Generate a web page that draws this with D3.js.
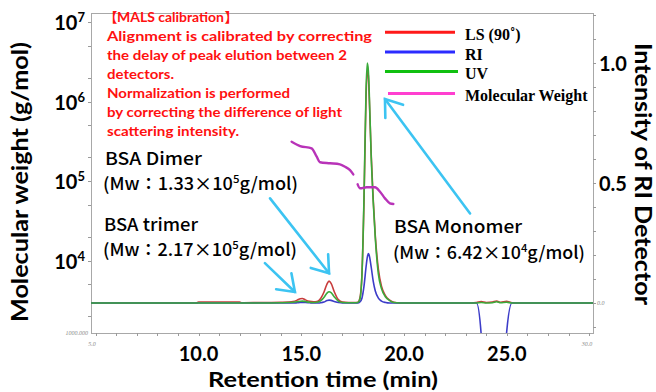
<!DOCTYPE html>
<html>
<head>
<meta charset="utf-8">
<script src="https://cdn.jsdelivr.net/npm/d3@7"></script>
<style>
  html, body { margin: 0; padding: 0; background: #fff; }
  svg { display: block; }
</style>
</head>
<body>
<svg id="chart" width="656" height="392"></svg>
<script>
// ---- Detector traces (normalised intensity) sampled at retention times (min)
const times = [4.77, 8.0, 9.9, 10.0, 12.0, 12.1, 13.0, 14.0, 14.4, 14.6,
  14.8, 14.95, 15.05, 15.2, 15.4, 15.6, 15.75, 15.85, 15.95, 16.1,
  16.25, 16.35, 16.45, 16.6, 16.8, 17.0, 17.3, 17.6, 17.75, 17.85,
  17.95, 18.05, 18.15, 18.21, 18.26, 18.3, 18.4, 18.5, 18.6, 18.75,
  18.9, 19.1, 19.3, 19.5, 19.8, 21.0, 23.3, 23.52, 23.75, 24.0,
  24.3, 24.5, 24.7, 24.98, 25.25, 25.5, 27.0, 29.19];

const lsSignal = [0, 0, 0, 0.004, 0.004, 0.001, 0.002, 0.003, 0.004, 0.006,
  0.012, 0.018, 0.019, 0.013, 0.007, 0.005, 0.006, 0.01, 0.02, 0.045,
  0.079, 0.091, 0.082, 0.048, 0.014, 0.004, 0.002, 0.002, 0.003, 0.02,
  0.12, 0.42, 0.86, 0.97, 0.95, 0.87, 0.62, 0.43, 0.28, 0.14,
  0.07, 0.03, 0.012, 0.003, 0, 0, 0, 0.002, 0.006, 0.002,
  0.004, 0.008, 0.003, 0.007, 0.001, 0, 0, 0];

const riSignal = [0, 0, 0, 0, 0, 0, 0, 0, 0, 0,
  0.001, 0.002, 0.002, 0.002, 0.001, 0, 0, 0, 0.001, 0.004,
  0.01, 0.012, 0.011, 0.006, 0.002, 0, 0, 0, 0, 0.004,
  0.02, 0.07, 0.15, 0.19, 0.206, 0.2, 0.15, 0.09, 0.05, 0.02,
  0.008, 0.002, 0, 0, 0, 0, 0, 0, -0.13, -0.6,
  -0.6, -0.6, -0.6, -0.13, 0, 0, 0, 0];

const uvSignal = [0, 0, 0, 0, 0, 0, 0, 0.001, 0.002, 0.003,
  0.005, 0.007, 0.008, 0.006, 0.003, 0.002, 0.003, 0.005, 0.01, 0.023,
  0.041, 0.047, 0.043, 0.026, 0.008, 0.002, 0.001, 0.001, 0.002, 0.016,
  0.115, 0.44, 0.89, 1.0, 0.97, 0.89, 0.61, 0.42, 0.27, 0.12,
  0.06, 0.025, 0.01, 0.002, 0, 0, 0, 0, 0.002, 0,
  0.001, 0.005, 0.001, 0.003, 0, 0, 0, 0];

// ---- Molar mass from MALS across the eluting peaks (g/mol); null = gap
const mwTimes = [14.53, 14.94, 15.50, 15.75, 15.91, 16.40, 16.88, 17.13, 17.37, 17.53,
  17.64, 17.74, 17.86, 18.18, 18.59, 18.83, 19.07, 19.31, 19.48];
const mwValues = [3.12e5, 2.75e5, 2.58e5, 2.02e5, 1.72e5, 1.67e5, 1.62e5, 1.51e5, 1.37e5, 1.21e5,
  null, 9.08e4, 8.09e4, 8.33e4, 8.33e4, 7.33e4, 6.05e4, 5.24e4, 5.14e4];

// ---- Axes
const timeWindow = [4.77, 29.19];
const xTickValues = [10, 15, 20, 25];
const xTickLabels = ["10.0", "15.0", "20.0", "25.0"];
const mwTickExponents = [4, 5, 6, 7];
const intensityTickValues = [0.5, 1.0];
const intensityTickLabels = ["0.5", "1.0"];

// ---- Legend
const seriesNames = ["LS (90\u02DA)", "RI", "UV", "Molecular Weight"];
const legendColors = ["#ff1a1a", "#2b2bff", "#10c010", "#ff3fd0"];
const traceColors = { ls: "#c83c3c", ri: "#3c3cc8", uv: "#3aaa3a", mw: "#b833b8" };

// ---- Peak annotations: [name, Mw mantissa, Mw exponent]
const peakNames = ["BSA Dimer", "BSA trimer", "BSA Monomer"];
const peakMwMantissa = ["1.33", "2.17", "6.42"];
const peakMwExponent = [5, 5, 4];
// arrows in data space: tail and tip as [time, intensity]
const arrowTails = [[13.48, 0.436], [13.23, 0.166], [23.21, 0.373]];
const arrowTips = [[16.35, 0.124], [14.69, 0.046], [19.07, 0.85]];

const noteTitle = "MALS calibration";
const noteLines = [
  "Alignment is calibrated by correcting",
  "the delay of peak elution between 2",
  "detectors.",
  "Normalization is performed",
  "by correcting the difference of light",
  "scattering intensity."
];

// ================= drawing =================
const svg = d3.select("#chart");
const frame = { left: 91, right: 593, top: 13, bottom: 333 };

const x = d3.scaleLinear().domain(timeWindow).range([frame.left, frame.right]);
const yMw = d3.scaleLog().domain([1e3, 1e7]).range([340, 22]);
const yInt = d3.scaleLinear().domain([0, 1]).range([303, 63]);

svg.append("rect").attr("width", 656).attr("height", 392).attr("fill", "#fff");

svg.append("defs").append("clipPath").attr("id", "plotClip")
  .append("rect")
  .attr("x", frame.left).attr("y", frame.top)
  .attr("width", frame.right - frame.left).attr("height", frame.bottom - frame.top);

// plot frame
svg.append("rect")
  .attr("x", frame.left + 0.5).attr("y", frame.top + 0.5)
  .attr("width", frame.right - frame.left).attr("height", frame.bottom - frame.top)
  .attr("fill", "none").attr("stroke", "#a8a8a8").attr("stroke-width", 1);

// minor ticks
const tickColor = "#9a9a9a";
const ticks = svg.append("g").attr("stroke", tickColor).attr("stroke-width", 1);
d3.range(5, 30).forEach(t => {
  const px = Math.round(x(t)) + 0.5;
  ticks.append("line").attr("x1", px).attr("x2", px)
    .attr("y1", frame.bottom).attr("y2", frame.bottom + 3);
});
const mwMinor = [];
[3, 4, 5, 6].forEach(e => [1, 2, 5].forEach(m => mwMinor.push(m * Math.pow(10, e))));
mwMinor.push(1e7);
mwMinor.forEach(v => {
  const py = Math.round(yMw(v)) + 0.5;
  if (py < frame.top || py > frame.bottom) return;
  ticks.append("line").attr("x1", frame.left - 3).attr("x2", frame.left)
    .attr("y1", py).attr("y2", py);
});
d3.range(-1, 13).forEach(k => {
  const py = Math.round(yInt(k / 10)) + 0.5;
  if (py < frame.top || py > frame.bottom) return;
  ticks.append("line").attr("x1", frame.right).attr("x2", frame.right + 3)
    .attr("y1", py).attr("y2", py);
});

// small instrument labels at the frame corners
const tiny = svg.append("g").attr("font-family", "Liberation Serif")
  .attr("font-style", "italic").attr("font-size", 6).attr("fill", "#8a8a8a");
tiny.append("text").attr("x", frame.left - 3).attr("y", frame.bottom + 2)
  .attr("text-anchor", "end").text("1000.000");
tiny.append("text").attr("x", frame.left + 1).attr("y", frame.bottom + 13)
  .attr("text-anchor", "middle").text("5.0");
tiny.append("text").attr("x", frame.right - 6).attr("y", frame.bottom + 13)
  .attr("text-anchor", "middle").text("30.0");
tiny.append("text").attr("x", frame.right + 4).attr("y", yInt(0) + 2)
  .attr("text-anchor", "start").text("0.0");

// traces
const plot = svg.append("g").attr("clip-path", "url(#plotClip)");
const traceLine = d3.line()
  .x((d, i) => x(times[i]))
  .y(d => yInt(d))
  .curve(d3.curveMonotoneX);

[[lsSignal, traceColors.ls], [riSignal, traceColors.ri], [uvSignal, traceColors.uv]]
  .forEach(([vals, col]) => {
    plot.append("path").attr("d", traceLine(vals))
      .attr("fill", "none").attr("stroke", col).attr("stroke-width", 1.6)
      .attr("stroke-linejoin", "round");
  });

const mwLine = d3.line()
  .defined(d => d != null)
  .x((d, i) => x(mwTimes[i]))
  .y(d => yMw(d))
  .curve(d3.curveMonotoneX);
plot.append("path").attr("d", mwLine(mwValues))
  .attr("fill", "none").attr("stroke", traceColors.mw).attr("stroke-width", 2.4)
  .attr("stroke-linecap", "round").attr("stroke-linejoin", "round");

// axis tick labels
const axisFont = "Lato, 'Open Sans', sans-serif";
const xLab = svg.append("g").attr("font-family", axisFont).attr("font-weight", 700)
  .attr("font-size", 20).attr("fill", "#000");
xTickValues.forEach((v, i) => {
  xLab.append("text").attr("x", x(v)).attr("y", 361)
    .attr("text-anchor", "middle").text(xTickLabels[i]);
});
mwTickExponents.forEach(e => {
  const t = xLab.append("text").attr("x", 85).attr("y", yMw(Math.pow(10, e)) + 8)
    .attr("text-anchor", "end").attr("font-size", 20);
  t.append("tspan").text("10");
  t.append("tspan").attr("dy", -8).attr("font-size", 13).text(e);
});
intensityTickValues.forEach((v, i) => {
  xLab.append("text").attr("x", 599).attr("y", yInt(v) + 7.5)
    .attr("text-anchor", "start").text(intensityTickLabels[i]);
});

// axis titles
svg.append("text")
  .attr("transform", "translate(27.5,182) rotate(-90)")
  .attr("text-anchor", "middle").attr("font-family", axisFont)
  .attr("font-weight", 700).attr("font-size", 23)
  .attr("textLength", 280).attr("lengthAdjust", "spacingAndGlyphs")
  .text("Molecular weight (g/mol)");
svg.append("text")
  .attr("x", 323).attr("y", 387)
  .attr("text-anchor", "middle").attr("font-family", axisFont)
  .attr("font-weight", 700).attr("font-size", 20)
  .attr("textLength", 230).attr("lengthAdjust", "spacingAndGlyphs")
  .text("Retention time (min)");
svg.append("text")
  .attr("transform", "translate(635,174) rotate(90)")
  .attr("text-anchor", "middle").attr("font-family", axisFont)
  .attr("font-weight", 700).attr("font-size", 22)
  .attr("textLength", 262).attr("lengthAdjust", "spacingAndGlyphs")
  .text("Intensity of RI Detector");

// calibration note
const noteWidths = [265, 240, 67, 183, 235, 132];
const note = svg.append("g").attr("font-family", axisFont).attr("font-weight", 700)
  .attr("font-size", 13.5).attr("fill", "#ff1010");
note.append("text").attr("x", 117.5).attr("y", 21.7)
  .attr("text-anchor", "end").attr("font-family", "'Noto Sans CJK JP', sans-serif")
  .text("\u3010");
note.append("text").attr("x", 117).attr("y", 21.7)
  .attr("font-size", 14)
  .attr("textLength", 107).attr("lengthAdjust", "spacingAndGlyphs")
  .text(noteTitle);
note.append("text").attr("x", 224.5).attr("y", 21.7)
  .attr("font-family", "'Noto Sans CJK JP', sans-serif")
  .text("\u3011");
noteLines.forEach((s, i) => {
  note.append("text").attr("x", 107).attr("y", 21.7 + (i + 1) * 19.13)
    .attr("textLength", noteWidths[i]).attr("lengthAdjust", "spacingAndGlyphs")
    .text(s);
});

// legend
const legend = svg.append("g");
seriesNames.forEach((name, i) => {
  const ly = 32.3 + i * 19.6 + (i === 3 ? 2.5 : 0);
  legend.append("line")
    .attr("x1", i === 3 ? 388 : 385).attr("x2", i === 2 ? 458 : 455)
    .attr("y1", ly).attr("y2", ly)
    .attr("stroke", legendColors[i]).attr("stroke-width", 3);
  legend.append("text").attr("x", 465).attr("y", ly + 7.8)
    .attr("font-family", "'Liberation Serif', 'Times New Roman', serif")
    .attr("font-weight", 700).attr("font-size", 16).attr("fill", "#000")
    .text(name);
});

// peak arrows
const arrowColor = "#3cc4f2";
const arrows = svg.append("g").attr("stroke", arrowColor).attr("stroke-width", 2.6)
  .attr("fill", "none").attr("stroke-linecap", "round");
arrowTips.forEach((tip, i) => {
  const tx = x(tip[0]), ty = yInt(tip[1]);
  const sx = x(arrowTails[i][0]), sy = yInt(arrowTails[i][1]);
  const ang = Math.atan2(sy - ty, sx - tx);
  const len = 19, spread = 0.62;
  const a1 = [tx + len * Math.cos(ang + spread), ty + len * Math.sin(ang + spread)];
  const a2 = [tx + len * Math.cos(ang - spread), ty + len * Math.sin(ang - spread)];
  arrows.append("line").attr("x1", sx).attr("y1", sy).attr("x2", tx).attr("y2", ty);
  arrows.append("path").attr("d", `M${a1[0]},${a1[1]}L${tx},${ty}L${a2[0]},${a2[1]}`)
    .attr("stroke-linejoin", "miter");
});

// peak labels
const labelFont = "'Noto Sans CJK JP', 'DejaVu Sans', sans-serif";
const namePos = [[105, 165], [104, 231], [394, 233]];
const nameWidths = [97, 94, 128];
const mwPos = [[103, 190], [103, 256], [393, 259]];
const mwWidths = [195, 194, 192];
const labels = svg.append("g").attr("font-family", labelFont).attr("font-weight", 500)
  .attr("font-size", 17.5).attr("fill", "#000");
peakNames.forEach((name, i) => {
  labels.append("text").attr("x", namePos[i][0]).attr("y", namePos[i][1])
    .attr("textLength", nameWidths[i]).attr("lengthAdjust", "spacingAndGlyphs")
    .text(name);
  const t = labels.append("text").attr("x", mwPos[i][0]).attr("y", mwPos[i][1])
    .attr("textLength", mwWidths[i]).attr("lengthAdjust", "spacingAndGlyphs");
  t.append("tspan").text("(Mw\uFF1A" + peakMwMantissa[i] + "\u00D710");
  t.append("tspan").attr("dy", -7).attr("font-size", 11).text(peakMwExponent[i]);
  t.append("tspan").attr("dy", 7).text("g/mol)");
});
</script>
</body>
</html>
